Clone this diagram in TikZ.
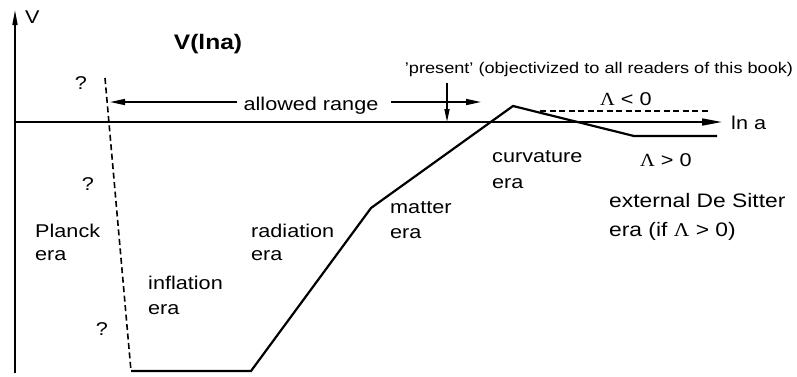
\documentclass[tikz,border=0pt]{standalone}
\usepackage{fontspec}
\setmainfont{Liberation Sans}[FakeStretch=1.17]
\newfontfamily\grk{Liberation Serif}[FakeStretch=1.1]
\usetikzlibrary{arrows.meta}
\tikzset{
  lbl/.style={inner sep=0pt, font=\fontsize{18.5}{20}\selectfont, align=left},
  small/.style={inner sep=0pt, font=\fontsize{15.5}{18}\selectfont},
  curve/.style={line width=2.2pt, line join=miter},
  axis/.style={line width=1.6pt},
  dsh/.style={line width=1.6pt, dash pattern=on 6pt off 3.5pt},
  tip/.style={-{Triangle[length=15pt,width=6pt]}},
}
\begin{document}
\begin{tikzpicture}[x=1pt,y=-1pt]
\useasboundingbox (0,0) rectangle (797,376);
% axes
\coordinate (yb) at (15,373);
\coordinate (yt) at (15,10);
\coordinate (xl) at (15,122);
\coordinate (xr) at (722,122);
\draw[axis,-{Triangle[length=15pt,width=5pt]}] (yb) -- (yt);
\draw[axis,-{Triangle[length=20pt,width=7pt]}] (xl) -- (xr);
\node[lbl,anchor=base west] (V) at (25,23) {V};
\node[inner sep=0pt,anchor=base,font=\fontsize{21}{24}\selectfont\bfseries] (title) at (208,49) {V(lna)};
\node[lbl,anchor=west] (lna) at (731,123) {ln a};
% curve
\coordinate (d1) at (105,78);
\coordinate (d2) at (131,371);
\coordinate (c1) at (251,371);
\coordinate (c2) at (371,208);
\coordinate (c3) at (513,106);
\coordinate (c4) at (634,136);
\coordinate (c5) at (717,136);
\draw[dsh] (d1) -- (d2);
\draw[curve] (d2) -- (c1) -- (c2) -- (c3) -- (c4) -- (c5);
\coordinate (n1) at (540,111);
\coordinate (n2) at (710,111);
\draw[dsh] (n1) -- (n2);
% allowed range
\node[lbl,anchor=base] (ar) at (311,110) {allowed range};
\coordinate (arL) at (110,102);
\coordinate (arR) at (481,102);
\draw[axis,tip] (ar.west |- arL) ++(-6,0) -- (arL);
\draw[axis,tip] (ar.east |- arR) ++(12,0) -- (arR);
% present
\node[small,anchor=base] (pres) at (599,73) {'present' (objectivized to all readers of this book)};
\coordinate (p1) at (447,83);
\coordinate (p2) at (447,122);
\draw[axis,-{Triangle[length=13pt,width=5pt]}] (p1) -- (p2);
% question marks
\node[lbl] (q1) at (81,83) {?};
\node[lbl] (q2) at (88,184) {?};
\node[lbl] (q3) at (102,329) {?};
% eras (base = baseline of last line)
\node[lbl,anchor=base west] (planck) at (35,260) {Planck\\[3pt]era};
\node[lbl,anchor=base west] (infl) at (148,314) {inflation\\[5pt]era};
\node[lbl,anchor=base west] (rad) at (251,260) {radiation\\[3pt]era};
\node[lbl,anchor=base west] (mat) at (390,238) {matter\\[5pt]era};
\node[lbl,anchor=base west] (curv) at (492,188) {curvature\\[6pt]era};
\node[lbl,anchor=base west] (neg) at (600,105) {{\grk Λ} < 0};
\node[lbl,anchor=base west] (pos) at (640,166) {{\grk Λ} > 0};
\node[inner sep=0pt,anchor=base west,align=left,font=\fontsize{19.5}{22}\selectfont] (ds) at (609,236) {external De Sitter\\[7pt]era (if {\grk Λ} > 0)};
\end{tikzpicture}
\end{document}
